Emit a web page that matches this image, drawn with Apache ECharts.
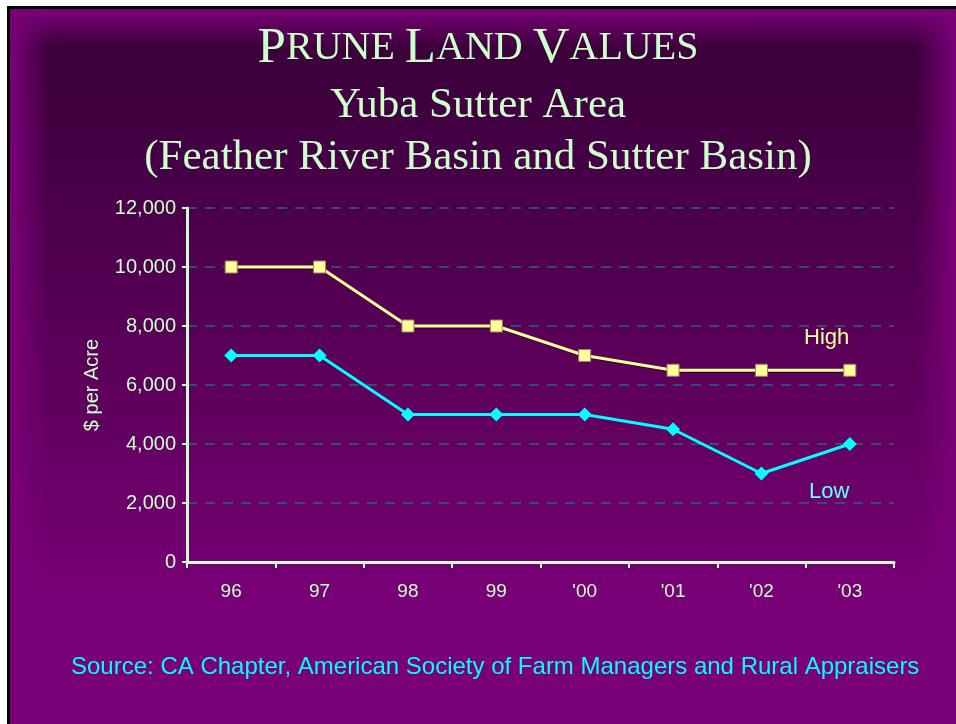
<!DOCTYPE html>
<html>
<head>
<meta charset="utf-8">
<script src="https://cdn.jsdelivr.net/npm/echarts@6/dist/echarts.min.js"></script>
<style>
html, body { margin: 0; padding: 0; background: #fff; }
#frame {
    position: absolute; left: 7px; top: 6px; width: 949px; height: 718px;
    background: #000;
}
#slide {
    position: absolute; left: 3px; top: 3px; right: 0; bottom: 0;
    background:
        linear-gradient(to right, #7a0078 0px, rgba(122,0,120,0) 40px),
        linear-gradient(to left, #7a0078 0px, rgba(122,0,120,0) 40px),
        linear-gradient(to bottom, #7a0078 0px, rgba(122,0,120,0) 40px),
        linear-gradient(to bottom, #380036 0px, #450045 150px, #60005e 400px, #7a0078 600px, #7a0078 100%);
}
#chart { position: absolute; left: 0; top: 0; width: 956px; height: 724px; }
</style>
</head>
<body>
<div id="frame"><div id="slide"></div></div>
<div id="chart"></div>
<script>
var years = ['96', '97', '98', '99', "'00", "'01", "'02", "'03"];
var highValues = [10000, 10000, 8000, 8000, 7000, 6500, 6500, 6500];
var lowValues = [7000, 7000, 5000, 5000, 5000, 4500, 3000, 4000];

var titleGreen = '#ccffcc';
var serifStyle = {
    fontFamily: 'Liberation Serif', fontWeight: 'normal', color: titleGreen,
    textShadowColor: '#000', textShadowOffsetX: 2, textShadowOffsetY: 2
};

var option = {
    backgroundColor: 'transparent',
    animation: false,
    title: [{
        text: '{b|P}{s|RUNE }{b|L}{s|AND }{b|V}{s|ALUES}',
        left: 'center',
        top: 18,
        textStyle: {
            rich: {
                b: Object.assign({ fontSize: 51 }, serifStyle),
                s: Object.assign({ fontSize: 40 }, serifStyle)
            }
        }
    }, {
        text: 'Yuba Sutter Area',
        left: 'center',
        top: 79,
        textStyle: Object.assign({ fontSize: 43 }, serifStyle)
    }, {
        text: '(Feather River Basin and Sutter Basin)',
        left: 'center',
        top: 131,
        textStyle: Object.assign({ fontSize: 43 }, serifStyle)
    }, {
        text: 'Source: CA Chapter, American Society of Farm Managers and Rural Appraisers',
        left: 66,
        top: 650,
        textStyle: { fontFamily: 'Liberation Sans', fontSize: 24, fontWeight: 'normal', color: '#00ffff',
                     textShadowColor: '#000', textShadowOffsetX: 1, textShadowOffsetY: 1 }
    }],
    grid: { left: 187, right: 62, top: 208, bottom: 162 },
    xAxis: {
        type: 'category',
        data: years,
        boundaryGap: true,
        axisLine: { lineStyle: { color: titleGreen, width: 3 } },
        axisTick: { show: true, length: 6, inside: false, lineStyle: { color: titleGreen, width: 2 } },
        axisLabel: { color: titleGreen, fontFamily: 'Liberation Sans', fontSize: 19, margin: 20 }
    },
    yAxis: {
        type: 'value',
        min: 0, max: 12000, interval: 2000,
        name: '$ per Acre',
        nameLocation: 'middle',
        nameGap: 85,
        nameTextStyle: { color: titleGreen, fontFamily: 'Liberation Sans', fontSize: 20 },
        axisLine: { show: true, lineStyle: { color: titleGreen, width: 3 } },
        axisTick: { show: true, length: 5, lineStyle: { color: titleGreen, width: 2 } },
        axisLabel: {
            color: titleGreen, fontFamily: 'Liberation Sans', fontSize: 20, margin: 11,
            formatter: function (v) { return v.toLocaleString('en-US'); }
        },
        splitLine: { lineStyle: { color: '#2a6670', width: 1.5, type: [10, 8] } }
    },
    series: [{
        name: 'High',
        type: 'line',
        data: highValues,
        symbol: 'rect',
        symbolSize: 12,
        lineStyle: { color: '#ffff99', width: 3, shadowColor: 'rgba(0,0,0,0.6)', shadowOffsetX: 1, shadowOffsetY: 1 },
        itemStyle: { color: '#ffff99', borderColor: '#a08060', borderWidth: 1 },
        z: 3
    }, {
        name: 'Low',
        type: 'line',
        data: lowValues,
        symbol: 'diamond',
        symbolSize: 14,
        lineStyle: { color: '#00ffff', width: 3 },
        itemStyle: { color: '#00ffff' },
        z: 3
    }],
    graphic: [{
        type: 'text', left: 804, top: 327,
        style: { text: 'High', fill: '#ffff99', font: '22px "Liberation Sans"' }
    }, {
        type: 'text', left: 809, top: 481,
        style: { text: 'Low', fill: '#66ffff', font: '22px "Liberation Sans"' }
    }]
};

var myecharts = echarts.init(document.getElementById('chart'));
myecharts.setOption(option);
</script>
</body>
</html>
